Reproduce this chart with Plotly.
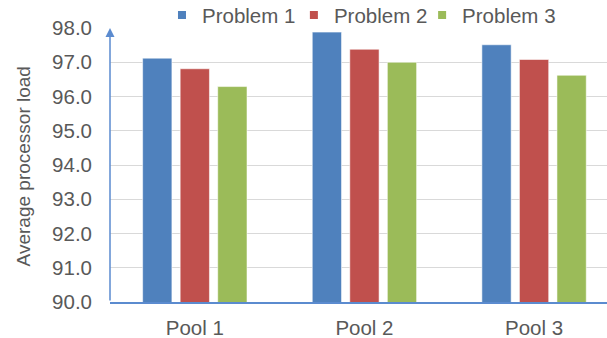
import plotly.graph_objects as go

# Average processor load per pool for three test problems
pools = ["Pool 1", "Pool 2", "Pool 3"]
series_names = ["Problem 1", "Problem 2", "Problem 3"]
problem_1 = [97.12, 97.88, 97.51]
problem_2 = [96.81, 97.38, 97.08]
problem_3 = [96.29, 97.00, 96.62]
y_ticks = [90, 91, 92, 93, 94, 95, 96, 97, 98]
y_title = "Average processor load"

colors = ["#4F81BD", "#C0504D", "#9BBB59"]
legend_ids = ["legend", "legend2", "legend3"]
legend_x = [0.1046, 0.370, 0.628]
text_color = "#595959"
font_family = "Liberation Sans, Arial, sans-serif"

fig = go.Figure()
for name, vals, col, lg in zip(series_names, [problem_1, problem_2, problem_3],
                               colors, legend_ids):
    fig.add_trace(go.Bar(
        x=pools, y=vals, name=name,
        marker=dict(color=col, line=dict(color="rgba(255,255,255,0.55)", width=1)),
        showlegend=False,
    ))
    # legend entry with a small square swatch
    fig.add_trace(go.Scatter(
        x=[None], y=[None], mode="markers", name=name,
        marker=dict(symbol="square", size=8, color=col),
        showlegend=True, legend=lg,
    ))

legend_style = dict(
    orientation="h", xanchor="left",
    yref="container", y=0.955, yanchor="middle",
    font=dict(size=20.5, color=text_color),
    bgcolor="rgba(0,0,0,0)", itemclick=False,
)

fig.update_layout(
    width=607, height=338,
    margin=dict(l=110, r=0, t=28, b=36, autoexpand=False),
    paper_bgcolor="white", plot_bgcolor="white",
    font=dict(family=font_family, size=20.5, color=text_color),
    barmode="group", bargap=0.336, bargroupgap=0.22,
    xaxis=dict(
        type="category", range=[-0.5, 2.43],
        showline=True, linecolor="#5B8BCF", linewidth=1.5,
        showgrid=False, ticks="", ticklabelstandoff=7,
        tickfont=dict(size=20.5, color=text_color),
    ),
    yaxis=dict(
        range=[90, 98], tickvals=y_ticks, tickformat=".1f",
        showgrid=True, gridcolor="#D9D9D9", gridwidth=1,
        showline=False, zeroline=False, ticks="", ticklabelstandoff=17,
        tickfont=dict(size=20.5, color=text_color),
    ),
)
for lg, lx in zip(legend_ids, legend_x):
    fig.update_layout({lg: dict(legend_style, x=lx)})

# rotated vertical-axis title
fig.add_annotation(
    xref="paper", yref="paper", x=-0.175, y=0.495,
    xanchor="center", yanchor="middle", textangle=-90,
    text=y_title, showarrow=False,
    font=dict(size=19, color=text_color),
)

# vertical axis line ending in an arrowhead
fig.add_annotation(
    xref="x domain", yref="y domain", x=0, y=1,
    axref="x domain", ayref="y domain", ax=0, ay=0,
    text="", showarrow=True, arrowhead=2, arrowsize=1.2, arrowwidth=1.5,
    arrowcolor="#5B8BCF", standoff=0,
)

fig.write_html("out.html")
